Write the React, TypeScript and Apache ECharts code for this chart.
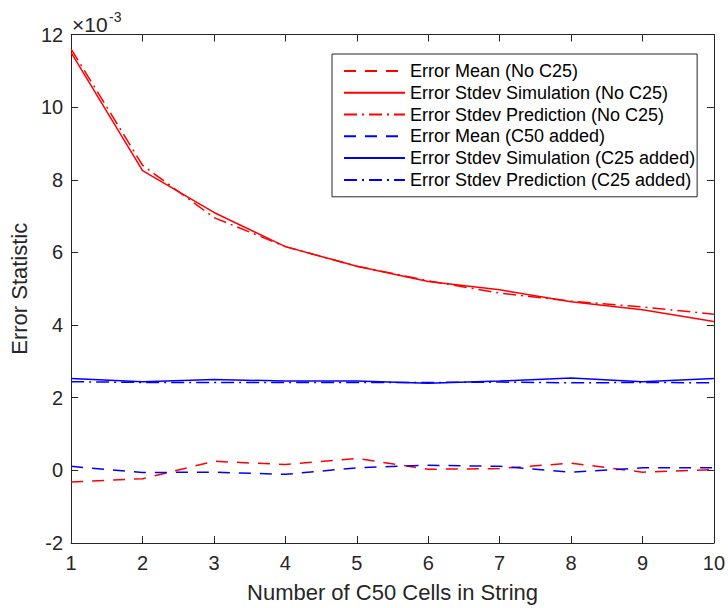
import React, { useEffect, useRef } from "react";
import * as echarts from "echarts";

// x values: number of C50 cells in string
const cells = [1, 2, 3, 4, 5, 6, 7, 8, 9, 10];
// values in units of 1e-3
const meanNoC25 = [-0.32, -0.23, 0.25, 0.16, 0.33, 0.03, 0.05, 0.2, -0.05, 0.02];
const stdSimNoC25 = [11.5, 8.25, 7.1, 6.16, 5.62, 5.2, 4.97, 4.64, 4.42, 4.1];
const stdPredNoC25 = [11.6, 8.4, 6.96, 6.16, 5.62, 5.22, 4.88, 4.66, 4.5, 4.3];
const meanC50 = [0.11, -0.06, -0.05, -0.11, 0.07, 0.14, 0.11, -0.05, 0.07, 0.07];
const stdSimC25 = [2.53, 2.44, 2.5, 2.46, 2.46, 2.4, 2.46, 2.54, 2.44, 2.53];
const stdPredC25 = [2.44, 2.42, 2.42, 2.42, 2.42, 2.42, 2.43, 2.41, 2.42, 2.41];

const seriesNames = [
  "Error Mean (No C25)",
  "Error Stdev Simulation (No C25)",
  "Error Stdev Prediction (No C25)",
  "Error Mean (C50 added)",
  "Error Stdev Simulation (C25 added)",
  "Error Stdev Prediction (C25 added)",
];
const yTicksMin = -2;
const yTicksMax = 12;
const yTickStep = 2;
const xLabel = "Number of C50 Cells in String";
const yLabel = "Error Statistic";

const FONT = "'Liberation Sans', Arial, Helvetica, sans-serif";
const AX = "#262626";
const DASH = [12, 9];
const DASHDOT = [13, 5, 2, 5];

export default function App() {
  const ref = useRef<HTMLDivElement>(null);
  useEffect(() => {
    if (!ref.current) return;
    const chart = echarts.init(ref.current, null, { renderer: "svg" });
    const pairs = (ys: number[]) => cells.map((x, i) => [x, ys[i]]);
    const defs = [
      { d: meanNoC25, c: "#ff0000", t: DASH },
      { d: stdSimNoC25, c: "#ff0000", t: "solid" },
      { d: stdPredNoC25, c: "#ff0000", t: DASHDOT },
      { d: meanC50, c: "#0000ff", t: DASH },
      { d: stdSimC25, c: "#0000ff", t: "solid" },
      { d: stdPredC25, c: "#0000ff", t: DASHDOT },
    ];
    const axisCommon = {
      type: "value" as const,
      axisLine: { show: true, onZero: false, lineStyle: { color: AX, width: 1 } },
      axisTick: { show: true, inside: true, length: 7, lineStyle: { color: AX, width: 1 } },
      splitLine: { show: false },
    };
    chart.setOption({
      animation: false,
      backgroundColor: "#ffffff",
      grid: { left: 71, top: 34.5, width: 647, height: 512, containLabel: false },
      legend: {
        orient: "vertical",
        left: 332,
        top: 54,
        padding: [6, 2, 6, 11],
        itemWidth: 61,
        itemHeight: 14,
        itemGap: 0,
        itemStyle: { opacity: 0 },
        backgroundColor: "#ffffff",
        borderColor: AX,
        borderWidth: 1,
        textStyle: { fontFamily: FONT, fontSize: 18, color: "#000", lineHeight: 21.8 },
        data: seriesNames,
      },
      xAxis: [
        {
          ...axisCommon,
          position: "bottom",
          min: 1,
          max: 10,
          interval: 1,
          axisLabel: { fontFamily: FONT, fontSize: 20, color: AX, margin: 10 },
          name: xLabel,
          nameLocation: "middle",
          nameGap: 38,
          nameTextStyle: { fontFamily: FONT, fontSize: 22, color: AX },
        },
        {
          ...axisCommon,
          position: "top",
          min: 1,
          max: 10,
          interval: 1,
          axisLabel: { show: false },
        },
      ],
      yAxis: [
        {
          ...axisCommon,
          position: "left",
          min: yTicksMin,
          max: yTicksMax,
          interval: yTickStep,
          axisLabel: { fontFamily: FONT, fontSize: 20, color: AX, margin: 8 },
          name: yLabel,
          nameLocation: "middle",
          nameGap: 38,
          nameTextStyle: { fontFamily: FONT, fontSize: 22, color: AX },
        },
        {
          ...axisCommon,
          position: "right",
          min: yTicksMin,
          max: yTicksMax,
          interval: yTickStep,
          axisLabel: { show: false },
        },
      ],
      graphic: [
        {
          type: "text",
          left: 72,
          top: 14,
          style: { text: "×10", fontFamily: FONT, fontSize: 21, fill: AX },
        },
        {
          type: "text",
          left: 109,
          top: 10,
          style: { text: "-3", fontFamily: FONT, fontSize: 14, fill: AX },
        },
      ],
      series: defs.map((s, i) => ({
        name: seriesNames[i],
        type: "line",
        xAxisIndex: 0,
        yAxisIndex: 0,
        data: pairs(s.d),
        symbol: "none",
        showSymbol: false,
        color: s.c,
        lineStyle: { color: s.c, width: 1.5, type: s.t },
        z: 2 + i,
      })),
    });
    return () => chart.dispose();
  }, []);
  return (
    <div
      ref={ref}
      style={{ position: "fixed", left: 0, top: 0, width: 728, height: 608, background: "#fff" }}
    />
  );
}
